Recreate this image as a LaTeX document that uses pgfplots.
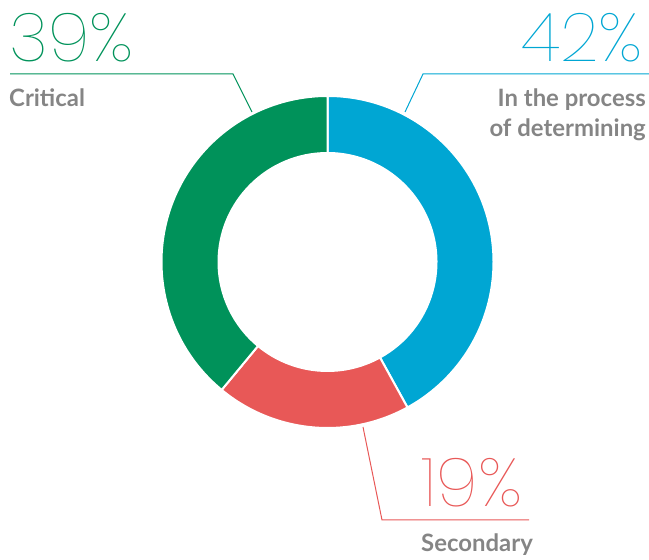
\documentclass[border=0pt]{standalone}
\usepackage{pgfplots}
\usepackage{pgfplotstable}
\pgfplotsset{compat=1.18}
\usepackage{fontspec}
\setmainfont{Lato}
\newfontfamily\thinfont{Poppins Thin}
\definecolor{cgreen}{HTML}{00925A}
\definecolor{cblue}{HTML}{00A6D3}
\definecolor{cred}{HTML}{E85857}
\definecolor{cgray}{HTML}{858585}
\pgfplotstableread{
label value
Determining 42
Secondary 19
Critical 39
}\ringdata
\begin{document}
\begin{tikzpicture}
\begin{axis}[name=ax,
  scale only axis, width=649bp, height=560bp,
  xmin=0, xmax=649, ymin=0, ymax=560,
  hide axis, clip=false]
\pgfplotstablegetelem{0}{value}\of\ringdata \pgfmathsetmacro\va{\pgfplotsretval}
\pgfplotstablegetelem{1}{value}\of\ringdata \pgfmathsetmacro\vb{\pgfplotsretval}
\pgfplotstablegetelem{2}{value}\of\ringdata \pgfmathsetmacro\vc{\pgfplotsretval}
\pgfmathsetmacro\aa{90}
\pgfmathsetmacro\ab{90-3.6*\va}
\pgfmathsetmacro\ac{\ab-3.6*\vb}
\pgfmathsetmacro\ad{\ac-3.6*\vc}
\begin{scope}[shift={(axis cs:327.5,298)}]
\filldraw[fill=cblue, draw=white, line width=2bp] (\aa:166bp) arc[start angle=\aa, end angle=\ab, radius=166bp] -- (\ab:109bp) arc[start angle=\ab, end angle=\aa, radius=109bp] -- cycle;
\filldraw[fill=cred, draw=white, line width=2bp] (\ab:166bp) arc[start angle=\ab, end angle=\ac, radius=166bp] -- (\ac:109bp) arc[start angle=\ac, end angle=\ab, radius=109bp] -- cycle;
\filldraw[fill=cgreen, draw=white, line width=2bp] (\ac:166bp) arc[start angle=\ac, end angle=\ad, radius=166bp] -- (\ad:109bp) arc[start angle=\ad, end angle=\ac, radius=109bp] -- cycle;
\end{scope}
\addplot[cgreen, line width=1bp] coordinates {(10,486) (233,486) (252,448)};
\addplot[cblue, line width=1bp] coordinates {(649,486) (423,486) (405,448)};
\addplot[cred, line width=1bp] coordinates {(363,133) (382,40) (529,40)};
\node[anchor=base west, inner sep=0pt, text=cgreen, font=\thinfont\fontsize{68}{68}\selectfont] at (axis cs:9,498) {39\%};
\node[anchor=base east, inner sep=0pt, text=cblue, font=\thinfont\fontsize{68}{68}\selectfont] at (axis cs:643,498) {42\%};
\node[anchor=base west, inner sep=0pt, text=cred, font=\thinfont\fontsize{68}{68}\selectfont] at (axis cs:421,53) {19\%};
\node[anchor=base west, inner sep=0pt, text=cgray, font=\bfseries\fontsize{24}{24}\selectfont] at (axis cs:9,453) {Critical};
\node[anchor=base east, inner sep=0pt, text=cgray, font=\bfseries\fontsize{24}{24}\selectfont] at (axis cs:646,453) {In the process};
\node[anchor=base east, inner sep=0pt, text=cgray, font=\bfseries\fontsize{24}{24}\selectfont] at (axis cs:646,423) {of determining};
\node[anchor=base west, inner sep=0pt, text=cgray, font=\bfseries\fontsize{24}{24}\selectfont] at (axis cs:421,8) {Secondary};
\end{axis}
\pgfresetboundingbox
\path[use as bounding box] (ax.south west) rectangle (ax.north east);
\end{tikzpicture}
\end{document}
